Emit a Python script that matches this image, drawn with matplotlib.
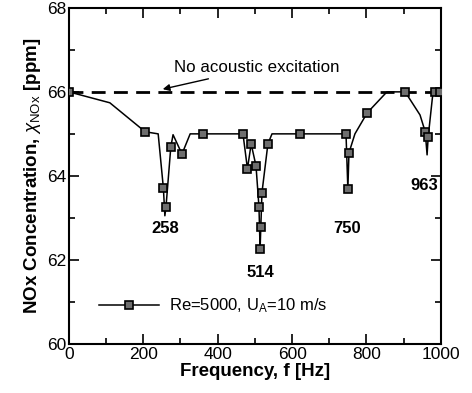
import matplotlib
matplotlib.use("Agg")
import matplotlib.pyplot as plt
from matplotlib.ticker import MultipleLocator

plt.rcParams['font.family'] = ['Liberation Sans', 'DejaVu Sans']
plt.rcParams['mathtext.fontset'] = 'custom'
plt.rcParams['mathtext.rm'] = 'Liberation Sans'
plt.rcParams['mathtext.it'] = 'Liberation Sans:italic'
plt.rcParams['mathtext.bf'] = 'Liberation Sans:bold'

# --- dados ---
freq = [0, 110, 205, 240, 254, 258, 261, 274, 280, 304, 326, 360, 468, 480, 490, 503,
        511, 514, 516, 519, 535, 546, 621, 745, 750, 753, 769, 802, 855, 904, 944,
        958, 963, 966, 979, 985, 997]
nox = [66.0, 65.74, 65.05, 65.0, 63.71, 63.05, 63.26, 64.69, 64.98, 64.52, 65.0, 65.0,
       65.0, 64.17, 64.76, 64.24, 63.26, 62.26, 62.79, 63.6, 64.76, 65.0, 65.0, 65.0,
       63.69, 64.55, 65.0, 65.5, 66.0, 66.0, 65.45, 65.05, 64.5, 64.93, 66.0, 66.0, 66.0]
# pontos sem marcador (apenas a linha passa por eles)
sem_marcador = [1, 3, 5, 8, 10, 21, 26, 28, 30, 32, 34]
marcados = [i for i in range(len(freq)) if i not in sem_marcador]

nox_sem_excitacao = 66.0
picos_freq = [258, 514, 750, 963]
picos_label_x = [258, 516, 748, 955]
picos_label_y = [62.74, 61.69, 62.74, 63.76]

fig, ax = plt.subplots(figsize=(4.72, 3.93), dpi=100)
fig.subplots_adjust(left=0.146, right=0.934, top=0.980, bottom=0.125)

ax.plot(freq, nox, color='black', lw=1.1, marker='s', markersize=5.2,
        markerfacecolor='#6e6e6e', markeredgecolor='black', markeredgewidth=1.2,
        markevery=marcados, label=r'Re=5000, U$_\mathrm{A}$=10 m/s', zorder=3)
ax.axhline(nox_sem_excitacao, color='black', lw=2.0, ls=(0, (5, 3)), zorder=2)

ax.annotate('No acoustic excitation', xy=(245, 66.05), xytext=(282, 66.57),
            fontsize=12.2, va='center', ha='left',
            arrowprops=dict(arrowstyle='-|>', color='black', lw=1.0, mutation_scale=10))

for lab, x, y in zip(picos_freq, picos_label_x, picos_label_y):
    ax.text(x, y, str(lab), fontsize=12, fontweight='bold', ha='center', va='center')

ax.set_xlim(0, 1000)
ax.set_ylim(60, 68)
ax.xaxis.set_major_locator(MultipleLocator(200))
ax.xaxis.set_minor_locator(MultipleLocator(100))
ax.yaxis.set_major_locator(MultipleLocator(2))
ax.yaxis.set_minor_locator(MultipleLocator(1))
ax.tick_params(which='both', direction='in', top=True, right=True, labelsize=12.5, width=1.2)
ax.tick_params(which='major', length=7, pad=2)
ax.tick_params(which='minor', length=4)
for s in ax.spines.values():
    s.set_linewidth(1.5)

ax.set_xlabel('Frequency, f [Hz]', fontsize=13.5, fontweight='bold', labelpad=1)
ax.set_ylabel(r'NOx Concentration, $\chi_{\mathrm{NOx}}$ [ppm]', fontsize=13.5,
              fontweight='bold', labelpad=3)

ax.legend(loc='lower left', bbox_to_anchor=(0.04, 0.04), frameon=False, fontsize=12,
          handlelength=3.6, handletextpad=0.6, markerscale=1.0)

plt.savefig('out.png', dpi=100)
